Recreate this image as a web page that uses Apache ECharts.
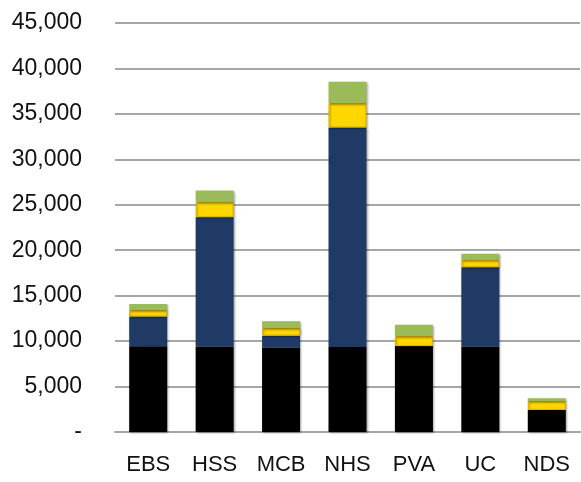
<!DOCTYPE html>
<html>
<head>
<meta charset="utf-8">
<script src="https://cdn.jsdelivr.net/npm/echarts@6/dist/echarts.min.js"></script>
<style>
  html, body { margin: 0; padding: 0; background: #fff; }
  #chart { width: 581px; height: 482px; }
</style>
</head>
<body>
<div id="chart"></div>
<script>
"use strict";

const categories = ["EBS", "HSS", "MCB", "NHS", "PVA", "UC", "NDS"];
const blackVals  = [9430, 9400, 9300, 9350, 9450, 9400, 2420];
const navyVals   = [3270, 14240, 1300, 24150, 0, 8730, 0];
const yellowVals = [730, 1680, 850, 2690, 1100, 810, 990];
const greenVals  = [660, 1250, 740, 2350, 1240, 660, 290];
const yTicks = { min: 0, max: 45000, interval: 5000 };

const fmtTick = (v) => (v === 0 ? "-" : v.toLocaleString("en-US"));

const shadow = {
  shadowColor: "rgba(0,0,0,0.35)", shadowBlur: 2, shadowOffsetX: 1, shadowOffsetY: 1,
};

function bar(name, data, color, extra = {}) {
  return {
    name, type: "bar", stack: "total", data, barWidth: 38,
    itemStyle: { color, ...shadow, ...extra },
    emphasis: { disabled: true },
  };
}

const chart = echarts.init(document.getElementById("chart"));
chart.setOption({
  animation: false,
  backgroundColor: "#fff",
  grid: { left: 115, right: 1, top: 23, bottom: 50 },
  xAxis: {
    type: "category",
    data: categories,
    axisLine: { lineStyle: { color: "#a6a6a6", width: 2 } },
    axisTick: { show: false },
    axisLabel: {
      interval: 0,
      color: "#111", fontSize: 22, margin: 22,
      fontFamily: "'Liberation Sans Narrow', 'Liberation Sans', Arial, sans-serif",
    },
  },
  yAxis: {
    type: "value",
    ...yTicks,
    axisLine: { show: false },
    axisTick: { show: false },
    splitLine: { lineStyle: { color: "#a6a6a6", width: 2 } },
    axisLabel: {
      color: "#111", fontSize: 23, margin: 33,
      fontFamily: "'Liberation Sans', Arial, sans-serif",
      formatter: fmtTick,
    },
  },
  series: [
    bar("Black", blackVals, "#000000"),
    bar("Navy", navyVals, "#1f3a64"),
    bar("Yellow", yellowVals, "#ffd700", { borderColor: "#e0b400", borderWidth: 1 }),
    bar("Green", greenVals, "#9bbb59"),
  ],
});
</script>
</body>
</html>
